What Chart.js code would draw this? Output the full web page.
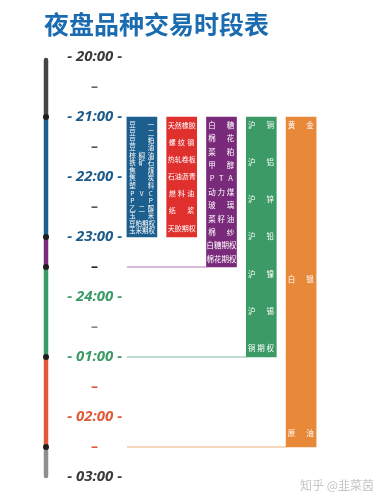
<!DOCTYPE html>
<html><head><meta charset="utf-8">
<script src="https://cdn.jsdelivr.net/npm/chart.js@4"></script>
<style>
html,body{margin:0;padding:0;background:#fff;}
#wrap{position:relative;width:380px;height:500px;}
#wm{position:absolute;left:300px;top:476px;font:12px "Noto Sans CJK SC";color:#c4c4c4;white-space:nowrap;}
</style>
</head><body>
<div id="wrap"><canvas id="c" width="380" height="500"></canvas><div id="wm">知乎 @韭菜茵</div></div>
<script>
// ---- data ----
const categories = ['大商所', '上期所', '郑商所', '上期所有色', '黄金白银原油'];
const sessionStart = [21, 21, 21, 21, 21];
const sessionEnd = [23, 23, 23.5, 25, 26.5];   // hours after 24 mean next day
const dceProducts = ['豆　一','豆　二','豆　粕','豆　油','棕榈油','铁矿石','焦　煤','焦　炭','塑　料','P V C','P　P','乙二醇','玉　米','豆粕期权','玉米期权'];
const shfeProducts = ['天然橡胶','螺纹钢','热轧卷板','石油沥青','燃料油','纸　浆','天胶期权'];
const czceProducts = ['白　糖','棉　花','菜　粕','甲　醇','P T A','动力煤','玻　璃','菜籽油','棉　纱','白糖期权','棉花期权'];
const metalProducts = ['沪　铜','沪　铝','沪　锌','沪　铅','沪　镍','沪　锡','铜期权'];
const ineProducts = ['黄　金','白　银','原　油'];
const productLists = [dceProducts, shfeProducts, czceProducts, metalProducts, ineProducts];
const hourValues = [20, 21, 22, 23, 24, 25, 26, 27];
const hourLabels = ['20:00', '21:00', '22:00', '23:00', '24:00', '01:00', '02:00', '03:00'];
const phaseBounds = [20, 21, 23, 23.5, 25, 26.5, 27];

// ---- styles ----
const barColors = ['#1c5f8e', '#e0302e', '#7a2a7a', '#3b9a66', '#e8893a'];
const endLineColors = [null, null, '#c9a5c9', '#a9cfc0', '#f2caa4'];
const phaseColors = ['#454545', '#1c5f8e', '#7a2a7a', '#3b9a66', '#e05a3a', '#8e8e8e'];
const hourColors = ['#3a3a3a', '#1c5a8a', '#1c5a8a', '#1c5a8a', '#3b9a66', '#3b9a66', '#e05a3a', '#3a3a3a'];
const halfColors = ['#666', '#555', '#555', '#222', '#888', '#e05a3a', '#e05a3a'];
const labelFont = [6.5, 7, 7.5, 7.5, 7.5];
const labelInsetBottom = [6, 9, 8, 9, 14];

const overlay = {
  id: 'overlay',
  beforeDatasetsDraw(chart) {
    const ctx = chart.ctx, y = chart.scales.y;
    const meta = chart.getDatasetMeta(0);
    const firstLeft = meta.data[0].x - meta.data[0].width / 2;
    ctx.save();
    ctx.lineWidth = 1.5;
    sessionEnd.forEach((e, i) => {
      if (!endLineColors[i]) return;
      const b = meta.data[i];
      const py = y.getPixelForValue(e);
      ctx.strokeStyle = endLineColors[i];
      ctx.beginPath();
      ctx.moveTo(firstLeft, py);
      ctx.lineTo(b.x - b.width / 2, py);
      ctx.stroke();
    });
    // left phase band
    const bx = 46;
    ctx.lineWidth = 4.5;
    for (let i = 0; i < phaseColors.length; i++) {
      let a = y.getPixelForValue(phaseBounds[i]);
      let b = y.getPixelForValue(phaseBounds[i + 1]);
      const first = i === 0, last = i === phaseColors.length - 1;
      if (first) a += 3;
      if (last) b -= 1;
      ctx.strokeStyle = phaseColors[i];
      ctx.lineCap = (first || last) ? 'round' : 'butt';
      ctx.beginPath();
      ctx.moveTo(bx, a); ctx.lineTo(bx, b);
      ctx.stroke();
    }
    ctx.fillStyle = '#1e1e1e';
    for (let i = 1; i < phaseBounds.length - 1; i++) {
      ctx.beginPath();
      ctx.arc(bx, y.getPixelForValue(phaseBounds[i]), 3, 0, Math.PI * 2);
      ctx.fill();
    }
    ctx.restore();
  },
  afterDatasetsDraw(chart) {
    const ctx = chart.ctx;
    const meta = chart.getDatasetMeta(0);
    ctx.save();
    ctx.fillStyle = '#ffffff';
    ctx.textBaseline = 'middle';
    ctx.textAlign = 'center';
    meta.data.forEach((bar, i) => {
      const list = productLists[i];
      const left = bar.x - bar.width / 2, right = bar.x + bar.width / 2;
      const top = Math.min(bar.y, bar.base), bottom = Math.max(bar.y, bar.base);
      const y0 = top + 8, y1 = bottom - labelInsetBottom[i];
      ctx.font = labelFont[i] + 'px "Noto Sans CJK SC"';
      list.forEach((name, k) => {
        const py = list.length > 1 ? y0 + (y1 - y0) * k / (list.length - 1) : y0;
        const chars = Array.from(name.replace(/[\s　]/g, ''));
        if (chars.length >= 4) {
          ctx.fillText(chars.join(''), bar.x, py);
        } else {
          const xa = left + 5.5, xb = right - 6;
          chars.forEach((ch, j) => {
            const px = chars.length > 1 ? xa + (xb - xa) * j / (chars.length - 1) : bar.x;
            ctx.fillText(ch, px, py);
          });
        }
      });
    });
    ctx.restore();
  }
};

new Chart(document.getElementById('c'), {
  type: 'bar',
  data: {
    labels: categories,
    datasets: [{
      data: sessionStart.map((s, i) => [s, sessionEnd[i]]),
      backgroundColor: barColors,
      borderWidth: 0,
      barThickness: 30
    }]
  },
  options: {
    responsive: false,
    animation: false,
    devicePixelRatio: 1,
    layout: { padding: { left: 44, right: 59, top: 0, bottom: 23 } },
    plugins: {
      legend: { display: false },
      tooltip: { enabled: false },
      title: {
        display: true,
        text: '夜盘品种交易时段表',
        align: 'start',
        color: '#1a6bb0',
        font: { family: '"Noto Sans CJK SC"', size: 25, weight: 'bold', lineHeight: 1.2 },
        padding: { top: 9, bottom: 18 }
      }
    },
    scales: {
      x: { display: false, offset: true },
      y: {
        min: 20, max: 27, reverse: true,
        afterFit: s => { s.width = 78; },
        grid: { display: false, drawTicks: false },
        border: { display: false },
        ticks: {
          stepSize: 0.5,
          autoSkip: false,
          padding: 0,
          crossAlign: 'center',
          callback: v => {
            const h = hourValues.indexOf(v);
            return h >= 0 ? '- ' + hourLabels[h] + ' -' : '–';
          },
          color: c => {
            const v = c.tick.value;
            const h = hourValues.indexOf(v);
            return h >= 0 ? hourColors[h] : halfColors[Math.floor(v - 20)];
          },
          font: c => {
            const v = c.tick && c.tick.value;
            return Number.isInteger(v)
              ? { family: '"Open Sans"', size: 15, weight: 'bold', style: 'italic' }
              : { family: '"Open Sans"', size: 14, weight: 'bold' };
          }
        }
      }
    }
  },
  plugins: [overlay]
});
</script>
</body></html>
